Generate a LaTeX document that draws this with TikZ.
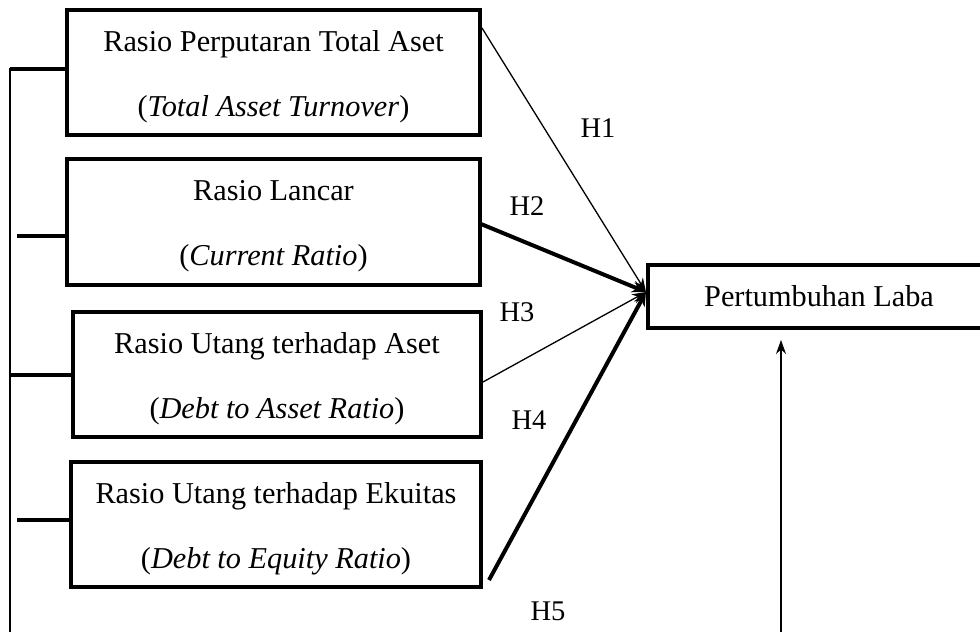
\documentclass[tikz,border=0pt]{standalone}
\usepackage{fontspec}
\setmainfont{Liberation Serif}
\usetikzlibrary{arrows.meta}
\newcommand{\toplift}{\rule{0pt}{29pt}}
\begin{document}
\begin{tikzpicture}[x=1pt,y=-1pt,
  box/.style={draw,line width=3.6pt,rectangle,inner sep=0pt,align=center,font=\fontsize{30.3}{65}\selectfont},
  thinarr/.style={line width=1.3pt,-{Stealth[length=14pt,width=10pt]}},
  thickarr/.style={line width=4pt,-{Stealth[length=14pt,width=12pt]}},
  stub/.style={line width=4pt},
  lbl/.style={font=\fontsize{28.5}{30}\selectfont,inner sep=0pt}]
\useasboundingbox (0,0) rectangle (980,632);
\node[box,minimum width=413pt,minimum height=125pt] (b1) at (273.5,72.5) {\toplift Rasio Perputaran Total Aset\\(\textit{Total Asset Turnover})};
\node[box,minimum width=413pt,minimum height=126pt] (b2) at (273.5,222) {\toplift Rasio Lancar\\(\textit{Current Ratio})};
\node[box,minimum width=408pt,minimum height=125pt] (b3) at (277,374.5) {\toplift Rasio Utang terhadap Aset\\(\textit{Debt to Asset Ratio})};
\node[box,minimum width=410pt,minimum height=125pt] (b4) at (276,524.5) {\toplift Rasio Utang terhadap Ekuitas\\(\textit{Debt to Equity Ratio})};
\node[box,minimum width=342pt,minimum height=63pt,font=\fontsize{30.3}{34}\selectfont] (t) at (819,296.5) {Pertumbuhan Laba};
\coordinate (tip) at (646,292);
\coordinate (s1) at (482,28);
\coordinate (s2) at (481,224);
\coordinate (s3) at (483,382);
\coordinate (s4) at (489,580);
\draw[thinarr] (s1) -- (tip);
\draw[thickarr] (s2) -- (tip);
\draw[thinarr] (s3) -- (tip);
\draw[thickarr] (s4) -- (tip);
\coordinate (vb) at (781,632);
\coordinate (vt) at (781,340);
\draw[thinarr] (vb) -- (vt);
% left bracket
\coordinate (lt) at (10,68);
\coordinate (lb) at (10,632);
\draw[line width=1.5pt] (lt) -- (lb);
\coordinate (k1a) at (10,69); \coordinate (k1b) at (67,69);
\coordinate (k2a) at (17,236); \coordinate (k2b) at (67,236);
\coordinate (k3a) at (10,375); \coordinate (k3b) at (73,375);
\coordinate (k4a) at (17,520); \coordinate (k4b) at (71,520);
\draw[stub] (k1a) -- (k1b);
\draw[stub] (k2a) -- (k2b);
\draw[stub] (k3a) -- (k3b);
\draw[stub] (k4a) -- (k4b);
\node[lbl] (h1) at (598,128) {H1};
\node[lbl] (h2) at (527,206) {H2};
\node[lbl] (h3) at (517,312) {H3};
\node[lbl] (h4) at (529,420) {H4};
\node[lbl] (h5) at (548,611) {H5};
\end{tikzpicture}
\end{document}
